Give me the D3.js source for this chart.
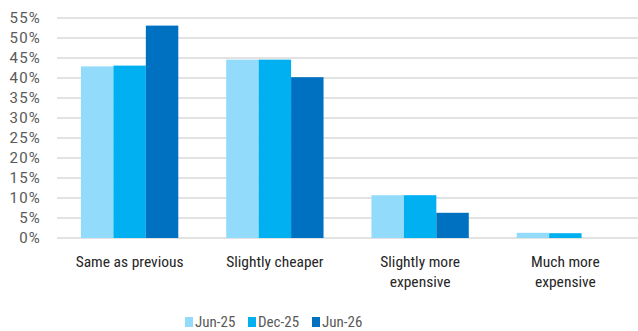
<!DOCTYPE html>
<html>
<head>
<meta charset="utf-8">
<script src="https://cdn.jsdelivr.net/npm/d3@7/dist/d3.min.js"></script>
<style>
  html, body { margin: 0; padding: 0; background: #fff; }
  svg { display: block; font-family: Roboto, "Noto Sans", sans-serif; }
  .narrow { font-family: "Liberation Sans Narrow", "Roboto Condensed", Roboto, sans-serif; }
</style>
</head>
<body>
<svg id="chart" width="638" height="331"></svg>
<script>
const categories = [["Same as previous"], ["Slightly cheaper"], ["Slightly more", "expensive"], ["Much more", "expensive"]];
const seriesNames = ["Jun-25", "Dec-25", "Jun-26"];
const jun25 = [42.9, 44.6, 10.7, 1.3];
const dec25 = [43.1, 44.6, 10.7, 1.2];
const jun26 = [53.1, 40.2, 6.3, 0];
const yTicks = [0, 5, 10, 15, 20, 25, 30, 35, 40, 45, 50, 55];
const colors = ["#93dbfa", "#00b0f0", "#0070c0"];

const series = [jun25, dec25, jun26];
const svg = d3.select("#chart");
const margin = { left: 57, right: 0, top: 18, bottom: 93 };
const W = 638, H = 331;

const y = d3.scaleLinear().domain([0, 55]).range([H - margin.bottom, margin.top]);
const x0 = d3.scaleBand().domain(d3.range(categories.length))
  .range([margin.left, W - margin.right]).paddingInner(0.33).paddingOuter(0.165);
const x1 = d3.scaleBand().domain(d3.range(seriesNames.length)).range([0, x0.bandwidth()]);

// gridlines
svg.append("g").selectAll("line").data(yTicks).join("line")
  .attr("x1", margin.left).attr("x2", W - margin.right)
  .attr("y1", d => y(d)).attr("y2", d => y(d))
  .attr("stroke", "#d9d9d9").attr("stroke-width", 1.5);

// y tick labels
svg.append("g").selectAll("text").data(yTicks).join("text")
  .attr("x", 41).attr("y", d => y(d)).attr("dy", "0.35em")
  .attr("text-anchor", "end").attr("fill", "#595959").attr("font-size", 15)
  .attr("letter-spacing", 1.2)
  .text(d => d + "%");

// bars
const groups = svg.append("g").selectAll("g").data(categories.map((c, i) => i)).join("g")
  .attr("transform", i => `translate(${x0(i)},0)`);
groups.selectAll("rect").data(i => series.map((s, k) => ({ k, v: s[i] }))).join("rect")
  .attr("x", d => x1(d.k)).attr("width", x1.bandwidth())
  .attr("y", d => y(d.v)).attr("height", d => y(0) - y(d.v))
  .attr("fill", d => colors[d.k]);

// category labels
const catG = svg.append("g").attr("class", "narrow").selectAll("text").data(categories.map((c, i) => ({ c, i }))).join("text")
  .attr("text-anchor", "middle").attr("fill", "#262626").attr("font-size", 15.5)
  .attr("x", d => x0(d.i) + x0.bandwidth() / 2).attr("y", 267);
catG.selectAll("tspan").data(d => d.c.map((t, j) => ({ t, j, x: x0(d.i) + x0.bandwidth() / 2 }))).join("tspan")
  .attr("x", d => d.x).attr("dy", d => d.j === 0 ? 0 : 20).text(d => d.t);

// legend
const legendX = [185, 248, 312];
const lg = svg.append("g").attr("class", "narrow").selectAll("g").data(seriesNames).join("g")
  .attr("transform", (d, i) => `translate(${legendX[i]},322)`);
lg.append("rect").attr("x", 0).attr("y", -5).attr("width", 8).attr("height", 10)
  .attr("fill", (d, i) => colors[i]);
lg.append("text").attr("x", 10).attr("y", 0).attr("dy", "0.35em")
  .attr("fill", "#595959").attr("font-size", 15).text(d => d);
</script>
</body>
</html>
